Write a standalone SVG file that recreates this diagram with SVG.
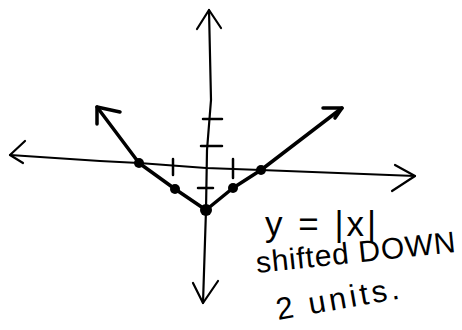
<svg xmlns="http://www.w3.org/2000/svg" width="462" height="330" viewBox="0 0 462 330">
<style>
.ax{fill:none;stroke:#000;stroke-width:2.2;stroke-linecap:round;stroke-linejoin:round}
.cv{fill:none;stroke:#000;stroke-width:3.5;stroke-linecap:round;stroke-linejoin:round}
.tk{fill:none;stroke:#000;stroke-width:2.5;stroke-linecap:round}
.pt{fill:#000}
.lb{font-family:"Liberation Sans","DejaVu Sans",sans-serif;fill:#000}
</style>
<rect width="462" height="330" fill="#fff"/>
<g id="connectors">
<g id="x-axis">
<path class="ax" d="M10,155 L100,161 L139,163 L206,168 L261,170 L415,176"/>
<path class="ax" d="M25,141 L10,155 L23,163"/>
<path class="ax" d="M395,165 L415,176 L392,191"/>
</g>
<g id="y-axis">
<path class="ax" d="M209,10 L211,100 L207,150 L206,210 L203,303"/>
<path class="ax" d="M197,29 L209,10 L221,28"/>
<path class="ax" d="M193,283 L203,303 L218,281"/>
</g>
<g id="ticks">
<path class="tk" d="M203,119 L222,119 M201,146 L222,146 M198,188 L213,188 M173,159 L173,175 M233,159 L233,178"/>
</g>
<g id="graph">
<path class="cv" d="M97,107 L139,163 L175,189 L206,210 L233,188 L261,170 L342,108"/>
<path class="cv" d="M97,124 L97,107 L120,112"/>
<path class="cv" d="M323,108 L342,108 L335,118"/>
</g>
</g>
<g id="points">
<circle class="pt" cx="139" cy="163" r="5"/>
<circle class="pt" cx="175" cy="189" r="5"/>
<circle class="pt" cx="206" cy="210" r="6"/>
<circle class="pt" cx="233" cy="188" r="5"/>
<circle class="pt" cx="261" cy="170" r="5"/>
</g>
<g id="label">
<text class="lb" x="265" y="236" font-size="35" letter-spacing="3">y = |x|</text>
<text class="lb" x="257" y="273" font-size="30" letter-spacing="0.8" transform="rotate(-6 257 273)">shifted DOWN</text>
<text class="lb" x="278" y="320" font-size="31" letter-spacing="3.5" transform="rotate(-10 278 320)">2 units.</text>
</g>
</svg>
